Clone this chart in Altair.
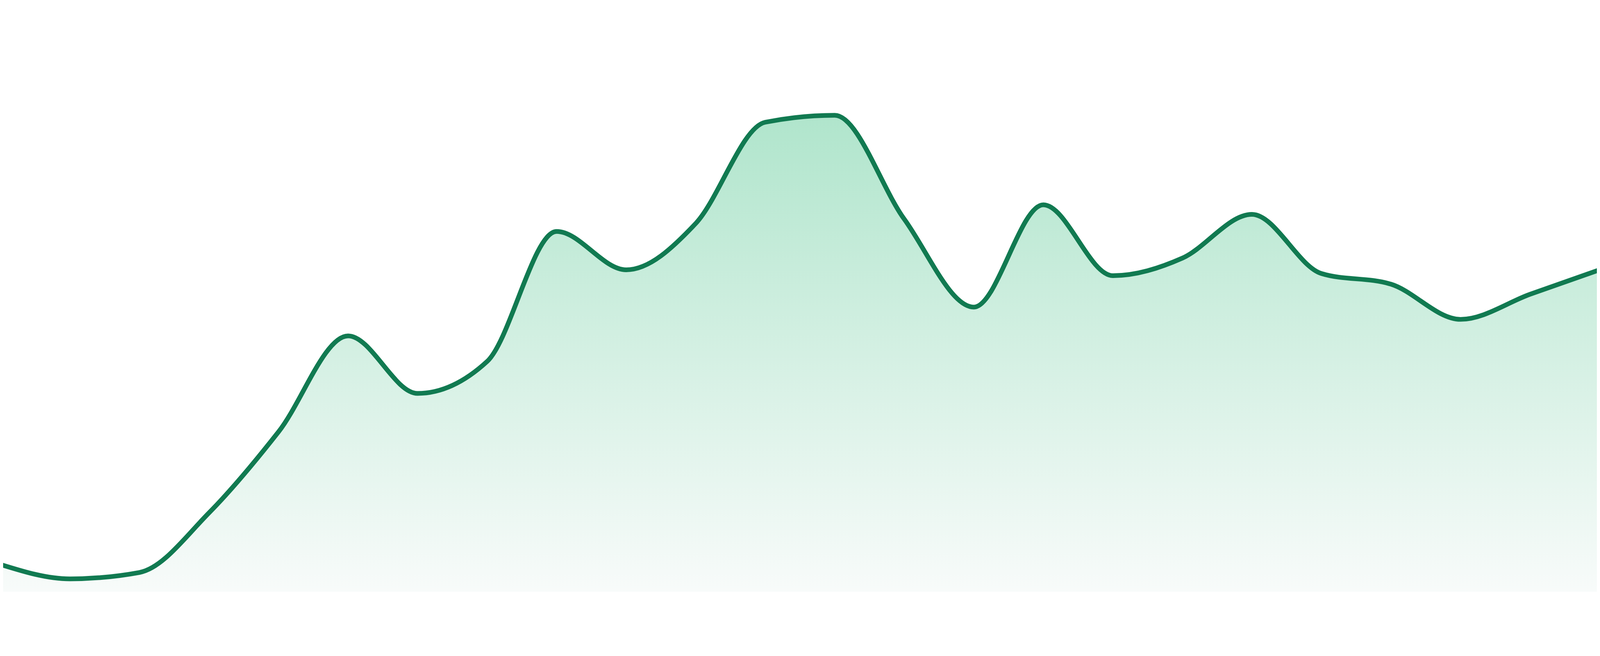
import altair as alt
import pandas as pd

# data (index along x, value above the baseline)
points = list(range(24))
values = [5.1, 2.4, 3.6, 14.8, 30.0, 48.0, 37.2, 43.2, 67.6, 60.4, 69.1, 88.1,
          89.4, 69.9, 53.4, 72.6, 59.3, 62.6, 70.8, 59.7, 57.7, 51.1, 55.8, 60.4]

df = pd.DataFrame({"i": points, "v": values})

# ranges shifted by the 8px page margin so the curve spans the whole window
x_enc = alt.X("i:Q", axis=None,
              scale=alt.Scale(domain=[0, 23], range=[-8, 4792], nice=False, zero=False))
y_enc = alt.Y("v:Q", axis=None,
              scale=alt.Scale(domain=[0, 102], range=[1624, -8], nice=False, zero=False))

area = alt.Chart(df).mark_area(
    interpolate="monotone",
    color=alt.Gradient(
        gradient="linear",
        stops=[alt.GradientStop(color="#b0e5cc", offset=0),
               alt.GradientStop(color="#f8fbfa", offset=1)],
        x1=1, x2=1, y1=0, y2=1,
    ),
).encode(x=x_enc, y=y_enc)

line = alt.Chart(df).mark_line(
    interpolate="monotone", color="#117a51", strokeWidth=14,
    strokeCap="round", strokeJoin="round",
).encode(x=x_enc, y=y_enc)

chart = alt.layer(area, line).properties(
    width=4784, height=1660,
    autosize=alt.AutoSizeParams(type="none"),
    padding=0,
    background="white",
).configure_view(stroke=None)

chart.save("out.html", embed_options={"renderer": "svg", "actions": False})
